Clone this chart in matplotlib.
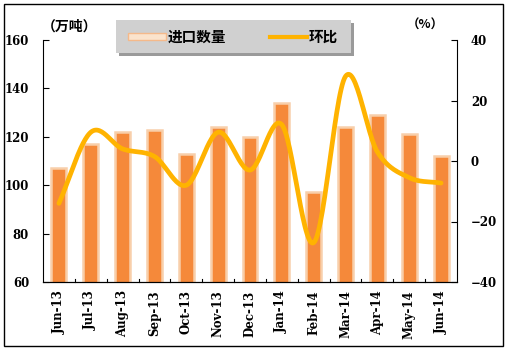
import numpy as np
import matplotlib
matplotlib.use("Agg")
import matplotlib.pyplot as plt
from matplotlib.patches import Rectangle, Patch
from matplotlib.lines import Line2D

months = ["Jun-13", "Jul-13", "Aug-13", "Sep-13", "Oct-13", "Nov-13", "Dec-13",
          "Jan-14", "Feb-14", "Mar-14", "Apr-14", "May-14", "Jun-14"]
imports = [107, 117, 122, 123, 113, 124, 120, 134, 97, 124, 129, 121, 112]
mom = [-14, 9.5, 4, 1.5, -8, 9.5, -3, 12, -27, 28, 3, -5.5, -7.3]

cjk = ['Noto Sans CJK SC', 'DejaVu Sans']
tickfont = dict(family='DejaVu Serif', weight='bold', size=8.5)

fig = plt.figure(figsize=(5.07, 3.51), dpi=100)
fig.patches.append(Rectangle((4/507, 1-346/351), 499/507, 342/351, transform=fig.transFigure,
                             fill=False, edgecolor='black', linewidth=1.0))

ax = fig.add_axes([43/507, 1-282/351, 414/507, 242/351])
x = np.arange(len(months))
ax.bar(x, imports, width=0.47, color='#F5893A', edgecolor='#F8CFAA', linewidth=1.8, zorder=2)
ax.set_ylim(60, 160)
ax.set_xlim(-0.5, len(months)-0.5)
ax.set_yticks([60, 80, 100, 120, 140, 160])
ax.set_xticks(x)
ax.set_xticklabels(months, rotation=90, fontdict=tickfont)
for lbl in ax.get_yticklabels():
    lbl.set_fontfamily('DejaVu Serif'); lbl.set_fontweight('bold'); lbl.set_fontsize(8.5)
ax.tick_params(axis='x', length=0, pad=6)
ax.tick_params(axis='y', direction='in', length=4, pad=10)
for b in np.arange(0.5, len(months)-0.5, 1):
    ax.plot([b, b], [60, 61.3], color='black', lw=0.8, clip_on=False, zorder=3)
ax.spines['top'].set_visible(False)
ax.spines['right'].set_visible(False)

ax2 = ax.twinx()
# smooth line (Catmull-Rom rendering of the data points)
p = np.array(mom, dtype=float)
pts = np.concatenate([[2*p[0]-p[1]], p, [2*p[-1]-p[-2]]])
xs, ys = [], []
for i in range(1, len(pts)-2):
    t = np.linspace(0, 1, 30)
    p0, p1, p2, p3 = pts[i-1], pts[i], pts[i+1], pts[i+2]
    yv = 0.5*((2*p1) + (-p0+p2)*t + (2*p0-5*p1+4*p2-p3)*t**2 + (-p0+3*p1-3*p2+p3)*t**3)
    xs.append(i-1+t); ys.append(yv)
ax2.plot(np.concatenate(xs), np.concatenate(ys), color='#FFB300', lw=3.4, solid_capstyle='round', zorder=4)
ax2.set_ylim(-40, 40)
ax2.set_yticks([-40, -20, 0, 20, 40])
for lbl in ax2.get_yticklabels():
    lbl.set_fontfamily('DejaVu Serif'); lbl.set_fontweight('bold'); lbl.set_fontsize(8.5)
ax2.tick_params(axis='y', direction='in', length=4, pad=10)
ax2.spines['top'].set_visible(False)
ax2.spines['left'].set_visible(False)

fig.text(70/507, 1-27/351, '（万吨）', family=cjk, weight='heavy', fontsize=10, ha='center', va='center')
fig.text(425/507, 1-25/351, '（%）', family=cjk, weight='heavy', fontsize=9, ha='center', va='center')

# legend box with shadow
fig.patches.append(Rectangle((119/507, 1-56/351), 235/507, 33/351, transform=fig.transFigure,
                             facecolor='#9A9A9A', edgecolor='none', zorder=0))
fig.patches.append(Rectangle((116/507, 1-53/351), 235/507, 33/351, transform=fig.transFigure,
                             facecolor='#D0D0D0', edgecolor='none', zorder=1))
handles = [Patch(facecolor='#FBE3CC', edgecolor='#F5B98A', linewidth=1.0),
           Line2D([], [], color='#FFB300', lw=3)]
leg = fig.legend(handles, ['进口数量', '环比'], loc='center', bbox_to_anchor=(233/507, 1-36.5/351),
                 ncol=2, frameon=False, prop=dict(family=cjk, weight='heavy', size=10.5),
                 handlelength=2.6, handleheight=0.35, handletextpad=0.1, columnspacing=3.0)
plt.savefig('out.png', dpi=100)
